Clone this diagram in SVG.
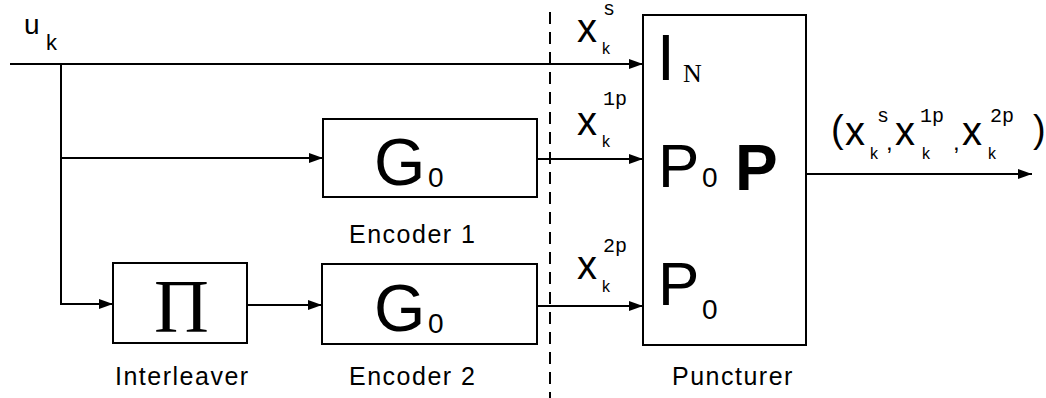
<svg xmlns="http://www.w3.org/2000/svg" width="1046" height="398" viewBox="0 0 1046 398">
<style>
.box{fill:none;stroke:#000;stroke-width:2}
.ln{fill:none;stroke:#000;stroke-width:2}
.s{font-family:"Liberation Sans",Arial,sans-serif;fill:#000}
.r{font-family:"Liberation Serif","Times New Roman",serif;fill:#000}
.lbl{font-family:"Liberation Sans",Arial,sans-serif;font-size:25px;letter-spacing:1.5px;fill:#000}
</style>
<defs>
<marker id="ah" markerWidth="14" markerHeight="10" refX="14" refY="5" orient="auto" markerUnits="userSpaceOnUse">
<path d="M0,0 L14,5 L0,10 Z" fill="#000"/>
</marker>
</defs>
<rect width="1046" height="398" fill="#fff"/>
<g id="connectors">
<path class="ln" d="M10 64 H643" marker-end="url(#ah)"/>
<path class="ln" d="M61 64 V304 H113" marker-end="url(#ah)"/>
<path class="ln" d="M61 158 H323" marker-end="url(#ah)"/>
<path class="ln" d="M247 305 H322" marker-end="url(#ah)"/>
<path class="ln" d="M537 159 H643" marker-end="url(#ah)"/>
<path class="ln" d="M537 306 H643" marker-end="url(#ah)"/>
<path class="ln" d="M806 174 H1032" marker-end="url(#ah)"/>
<path class="ln" d="M550 12 V398" stroke-dasharray="12 8"/>
</g>
<g id="input-label">
<text class="s" x="24" y="34" font-size="28">u</text>
<text class="s" x="46" y="50" font-size="22">k</text>
</g>
<g id="encoder1">
<rect class="box" x="323" y="119" width="214" height="78"/>
<text class="s" x="374" y="185" font-size="66">G</text>
<text class="s" x="428" y="187" font-size="28">0</text>
<text class="lbl" x="349" y="243">Encoder 1</text>
</g>
<g id="interleaver">
<rect class="box" x="113" y="263" width="134" height="80"/>
<text class="r" x="154" y="332" font-size="76">Π</text>
<text class="lbl" x="115" y="385">Interleaver</text>
</g>
<g id="encoder2">
<rect class="box" x="322" y="264" width="215" height="80"/>
<text class="s" x="374" y="331" font-size="66">G</text>
<text class="s" x="428" y="333" font-size="28">0</text>
<text class="lbl" x="349" y="385">Encoder 2</text>
</g>
<g id="stream-labels">
<text class="s" x="577" y="42" font-size="40">x</text>
<text class="s" x="602" y="54" font-size="16">k</text>
<text x="603" y="15" font-size="20" font-family="Liberation Mono, Courier New, monospace">s</text>
<text class="s" x="577" y="135" font-size="40">x</text>
<text class="s" x="602" y="147" font-size="16">k</text>
<text x="603" y="105" font-size="20" font-family="Liberation Mono, Courier New, monospace">1p</text>
<text class="s" x="577" y="279" font-size="40">x</text>
<text class="s" x="602" y="292" font-size="16">k</text>
<text x="603" y="252" font-size="20" font-family="Liberation Mono, Courier New, monospace">2p</text>
</g>
<g id="puncturer">
<rect class="box" x="643" y="15" width="163" height="330"/>
<text class="s" x="657" y="80" font-size="64">I</text>
<text class="r" x="683" y="82" font-size="26">N</text>
<text class="s" x="658" y="187" font-size="62">P</text>
<text class="s" x="702" y="187" font-size="28">0</text>
<text class="s" x="735" y="190" font-size="64" font-weight="bold">P</text>
<text class="s" x="658" y="305" font-size="62">P</text>
<text class="s" x="702" y="319" font-size="28">0</text>
<text class="lbl" x="672" y="385">Puncturer</text>
</g>
<g id="output-label">
<text class="s" x="831" y="142" font-size="38">(</text>
<text class="s" x="845" y="145" font-size="40">x</text>
<text class="s" x="870" y="159" font-size="16">k</text>
<text x="877" y="122" font-size="20" font-family="Liberation Mono, Courier New, monospace">s</text>
<text class="s" x="886" y="150" font-size="24">,</text>
<text class="s" x="895" y="145" font-size="40">x</text>
<text class="s" x="922" y="159" font-size="16">k</text>
<text x="920" y="122" font-size="20" font-family="Liberation Mono, Courier New, monospace">1p</text>
<text class="s" x="953" y="150" font-size="24">,</text>
<text class="s" x="962" y="145" font-size="40">x</text>
<text class="s" x="988" y="159" font-size="16">k</text>
<text x="990" y="122" font-size="20" font-family="Liberation Mono, Courier New, monospace">2p</text>
<text class="s" x="1033" y="142" font-size="38">)</text>
</g>
</svg>
